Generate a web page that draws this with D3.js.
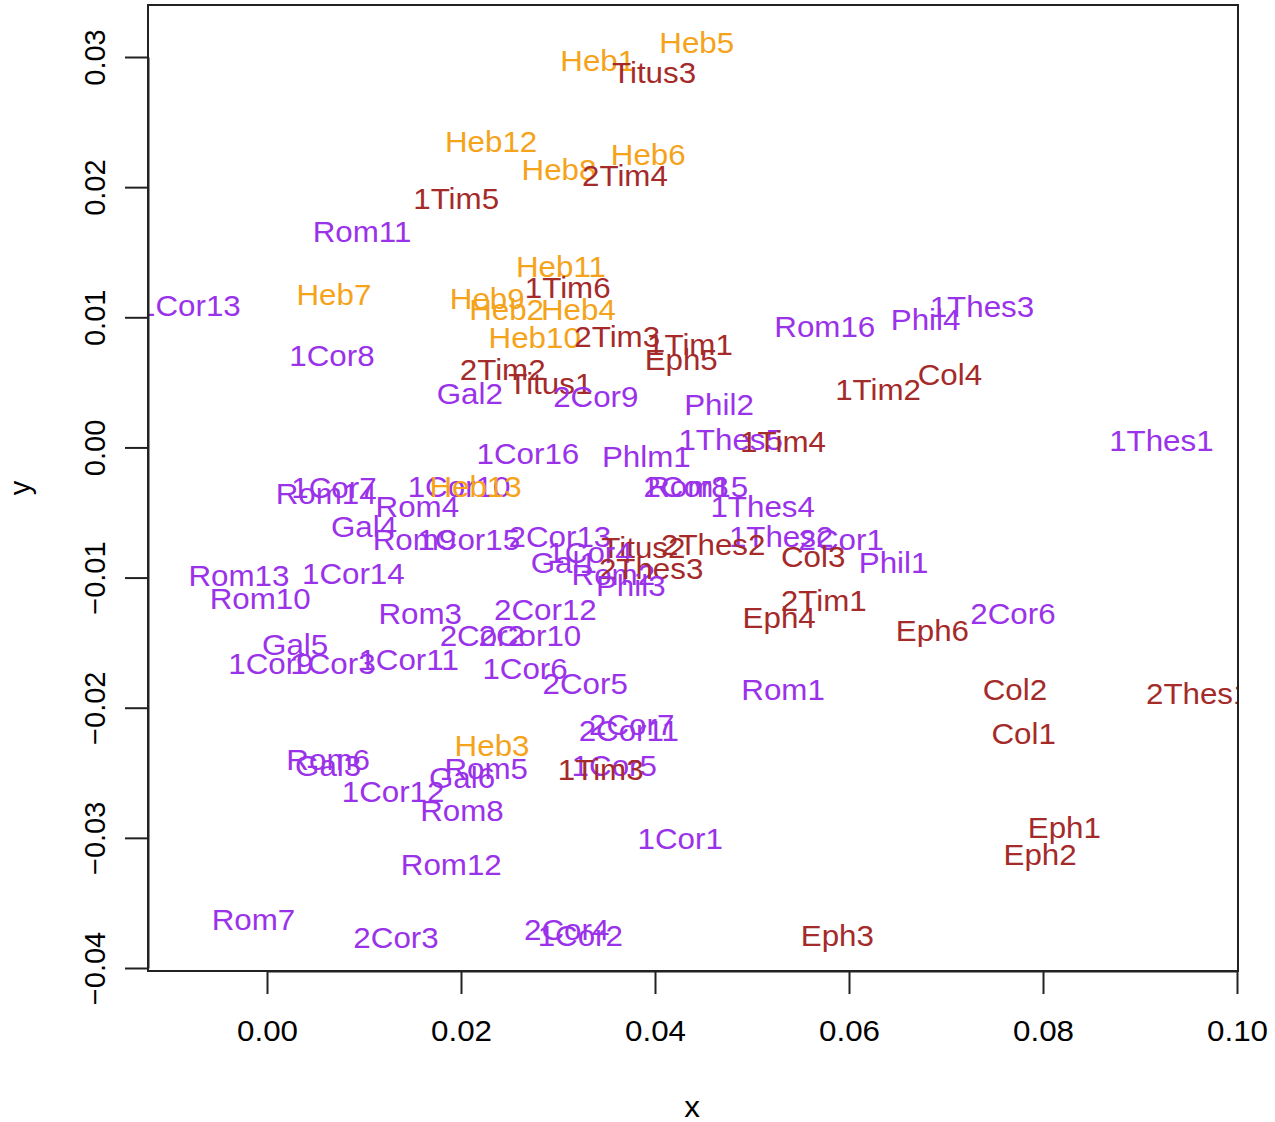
<!DOCTYPE html>
<html>
<head>
<meta charset="utf-8">
<script src="https://cdn.jsdelivr.net/npm/d3@7"></script>
<style>
  html, body { margin: 0; padding: 0; background: #fff; }
  svg text { font-family: "Liberation Sans", Arial, Helvetica, sans-serif; }
</style>
</head>
<body>
<svg id="chart" width="1275" height="1122"></svg>
<script>
// ---- data ----
const labels = ["Heb5","Heb1","Titus3","Heb12","Heb6","Heb8","2Tim4","1Tim5","Rom11","Heb11",
  "1Tim6","Heb7","1Cor13","Heb9","Heb2","Heb4","Heb10","2Tim3","1Tim1","Eph5",
  "2Tim2","Titus1","Gal2","2Cor9","1Cor8","Rom16","Phil4","1Thes3","Col4","1Tim2",
  "Phil2","1Thes1","1Thes5","1Tim4","1Cor16","Phlm1","1Cor7","Rom14","1Cor10","Heb13",
  "2Cor8","Rom15","Rom4","1Thes4","Gal4","Rom9","1Cor15","2Cor13","1Thes2","2Cor1",
  "Titus2","2Thes2","1Cor4","Gal1","Rom2","2Thes3","Phil3","Col3","Phil1","Rom13",
  "1Cor14","Rom10","2Tim1","Eph4","2Cor6","Eph6","Rom3","2Cor12","2Cor2","2Cor10",
  "Gal5","1Cor9","1Cor3","1Cor11","1Cor6","2Cor5","Rom1","Col2","2Thes1","Col1",
  "2Cor7","2Cor11","Heb3","Rom6","Gal3","Rom5","Gal6","1Cor5","1Tim3","1Cor12",
  "Rom8","Eph1","Eph2","1Cor1","Rom12","Rom7","2Cor3","2Cor4","1Cor2","Eph3"];
const xValues = [0.0443,0.0341,0.0399,0.0231,0.0393,0.0301,0.0369,0.0195,0.0098,0.0303,
  0.0310,0.0069,-0.0080,0.0227,0.0247,0.0321,0.0276,0.0361,0.0436,0.0427,
  0.0243,0.0292,0.0209,0.0339,0.0067,0.0575,0.0679,0.0737,0.0704,0.0630,
  0.0466,0.0922,0.0478,0.0532,0.0269,0.0391,0.0069,0.0061,0.0198,0.0215,
  0.0432,0.0444,0.0155,0.0511,0.0100,0.0152,0.0208,0.0302,0.0530,0.0592,
  0.0388,0.0460,0.0333,0.0306,0.0357,0.0396,0.0375,0.0563,0.0646,-0.0029,
  0.0089,-0.0007,0.0574,0.0528,0.0769,0.0686,0.0158,0.0287,0.0222,0.0271,
  0.0029,0.0004,0.0068,0.0146,0.0266,0.0328,0.0532,0.0771,0.0960,0.0780,
  0.0376,0.0373,0.0232,0.0063,0.0063,0.0226,0.0201,0.0358,0.0344,0.0130,
  0.0201,0.0822,0.0797,0.0426,0.0190,-0.0014,0.0133,0.0309,0.0323,0.0588];
const yValues = [0.0311,0.0297,0.0288,0.0235,0.0225,0.0213,0.0209,0.0191,0.0166,0.0139,
  0.0123,0.0117,0.0109,0.0114,0.0106,0.0106,0.0084,0.0085,0.0079,0.0067,
  0.0060,0.0049,0.0041,0.0039,0.0070,0.0093,0.0098,0.0108,0.0056,0.0044,
  0.0033,0.0005,0.0006,0.0004,-0.0005,-0.0007,-0.0031,-0.0036,-0.0030,-0.0030,
  -0.0030,-0.0030,-0.0046,-0.0046,-0.0061,-0.0071,-0.0071,-0.0069,-0.0069,-0.0071,
  -0.0077,-0.0075,-0.0081,-0.0089,-0.0098,-0.0093,-0.0106,-0.0084,-0.0089,-0.0099,
  -0.0097,-0.0116,-0.0118,-0.0131,-0.0128,-0.0141,-0.0128,-0.0125,-0.0145,-0.0145,
  -0.0152,-0.0166,-0.0166,-0.0163,-0.0170,-0.0182,-0.0186,-0.0186,-0.0189,-0.0220,
  -0.0213,-0.0218,-0.0229,-0.0240,-0.0245,-0.0247,-0.0254,-0.0245,-0.0248,-0.0265,
  -0.0279,-0.0292,-0.0313,-0.0301,-0.0321,-0.0363,-0.0377,-0.0371,-0.0375,-0.0375];
const xTicks = [0.00, 0.02, 0.04, 0.06, 0.08, 0.10];
const yTicks = [-0.04, -0.03, -0.02, -0.01, 0.00, 0.01, 0.02, 0.03];
const disputedBooks = ["Eph","Col","2Thes","1Tim","2Tim","Titus"];
const hebrewsBooks = ["Heb"];

// ---- layout ----
const svg = d3.select("#chart");
const box = { left: 148, right: 1238, top: 5, bottom: 971 };
const x = d3.scaleLinear().domain([0, 0.10]).range([267, 1237]);
const y = d3.scaleLinear().domain([-0.04, 0.03]).range([968, 57]);
const FS = 29, SX = 1.08;

function bookOf(name) { return name.replace(/\d+$/, ""); }
function colorOf(name) {
  const b = bookOf(name);
  if (hebrewsBooks.includes(b)) return "#F5A31A";
  if (disputedBooks.includes(b)) return "#A52A2A";
  return "#9A32EA";
}

svg.append("defs").append("clipPath").attr("id", "plotclip")
  .append("rect").attr("x", box.left + 1).attr("y", box.top)
  .attr("width", box.right - box.left - 1).attr("height", box.bottom - box.top);

const points = labels.map((l, i) => ({ label: l, x: xValues[i], y: yValues[i] }));

svg.append("g").attr("clip-path", "url(#plotclip)")
  .selectAll("text").data(points).join("text")
  .attr("transform", d => `translate(${x(d.x)},${y(d.y)}) scale(${SX},1)`)
  .attr("dy", "0.35em")
  .attr("text-anchor", "middle")
  .attr("font-size", FS)
  .attr("fill", d => colorOf(d.label))
  .text(d => d.label);

// box
svg.append("rect").attr("x", box.left).attr("y", box.top)
  .attr("width", box.right - box.left).attr("height", box.bottom - box.top)
  .attr("fill", "none").attr("stroke", "#222").attr("stroke-width", 2);

// axes
const xAxis = svg.append("g").attr("transform", `translate(0,${box.bottom})`)
  .call(d3.axisBottom(x).tickValues(xTicks).tickFormat(d3.format(".2f"))
    .tickSize(23).tickSizeOuter(0).tickPadding(0));
const yAxis = svg.append("g").attr("transform", `translate(${box.left},0)`)
  .call(d3.axisLeft(y).tickValues(yTicks).tickFormat(d3.format(".2f"))
    .tickSize(23).tickSizeOuter(0).tickPadding(0));
[xAxis, yAxis].forEach(g => {
  g.selectAll("path, line").attr("stroke", "#222").attr("stroke-width", 2);
  g.selectAll("text").attr("font-size", FS).attr("fill", "#000")
    .attr("font-family", "Liberation Sans, Arial, sans-serif");
});
xAxis.selectAll(".tick text")
  .attr("y", null).attr("dy", "0.35em")
  .attr("transform", `translate(0,${1031 - box.bottom}) scale(${SX},1)`);
yAxis.selectAll(".tick text")
  .attr("x", 0).attr("y", 0).attr("dy", null)
  .attr("text-anchor", "middle")
  .attr("dominant-baseline", "central")
  .attr("transform", "translate(-53,0) rotate(-90)");

// titles
svg.append("text").attr("transform", `translate(692,1107) scale(${SX},1)`).attr("dy", "0.35em")
  .attr("text-anchor", "middle").attr("font-size", FS).text("x");
svg.append("text").attr("transform", "translate(20,488) rotate(-90)")
  .attr("dy", "0.35em").attr("text-anchor", "middle").attr("font-size", FS).text("y");
</script>
</body>
</html>
